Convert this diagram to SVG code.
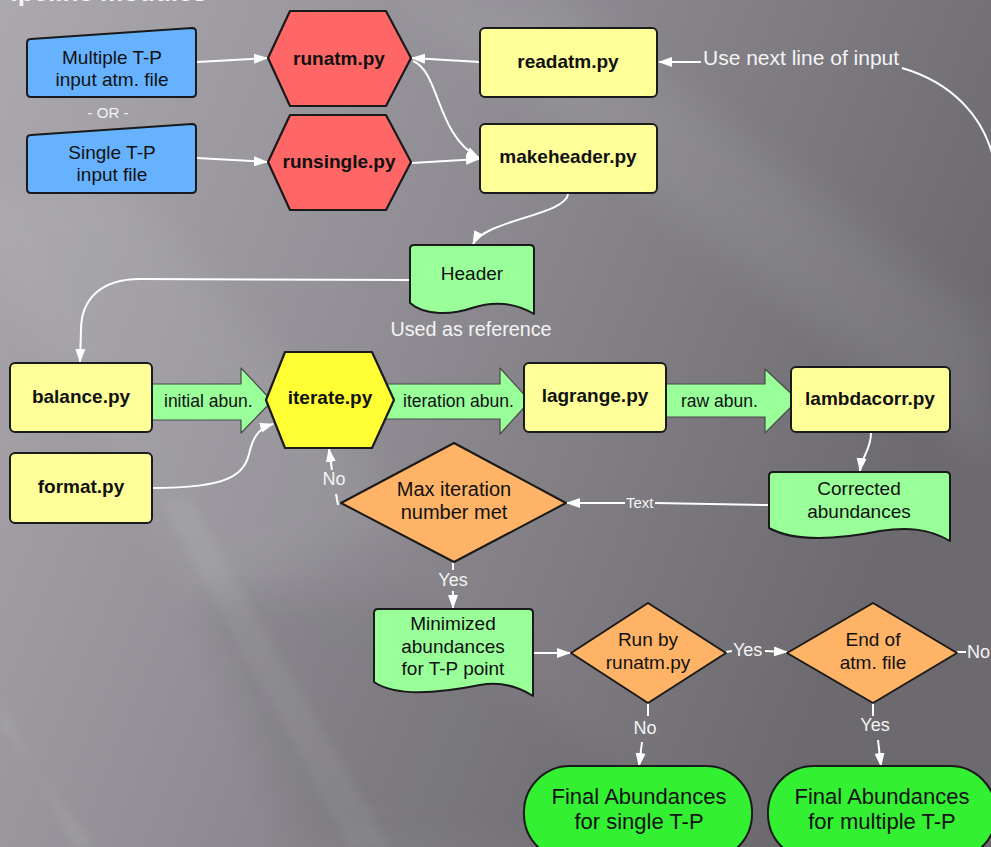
<svg xmlns="http://www.w3.org/2000/svg" width="991" height="847" viewBox="0 0 991 847">
<defs>
<linearGradient id="bg" x1="0" y1="0" x2="1" y2="0.35">
<stop offset="0" stop-color="#aba8ae"/>
<stop offset="0.45" stop-color="#918f95"/>
<stop offset="1" stop-color="#6c6a6f"/>
</linearGradient>
<filter id="blur" x="-20%" y="-20%" width="140%" height="140%"><feGaussianBlur stdDeviation="18"/></filter>
<filter id="blur2" x="-20%" y="-20%" width="140%" height="140%"><feGaussianBlur stdDeviation="5"/></filter>
<marker id="ah" viewBox="0 0 14 12" refX="13" refY="6" markerWidth="14" markerHeight="12" markerUnits="userSpaceOnUse" orient="auto">
<path d="M0,1 L14,6 L0,11 z" fill="#ffffff"/>
</marker>
<style>
.lbl{font-family:"Liberation Sans",Arial,sans-serif;fill:#111;font-size:19px;text-anchor:middle}
.b{font-weight:bold}
.w{font-family:"Liberation Sans",Arial,sans-serif;fill:#f4f4f4;font-size:18px}
.c{text-anchor:middle}
.ln{fill:none;stroke:#ffffff;stroke-width:2}
.ar{marker-end:url(#ah)}
.blue{fill:#66b2ff;stroke:#1a1a1a;stroke-width:2;stroke-linejoin:round}
.red{fill:#ff6666;stroke:#1a1a1a;stroke-width:2.2;stroke-linejoin:round}
.yel{fill:#ffff99;stroke:#1a1a1a;stroke-width:2}
.hy{fill:#ffff33;stroke:#1a1a1a;stroke-width:2.2;stroke-linejoin:round}
.grn{fill:#99ff99;stroke:#1a1a1a;stroke-width:2;stroke-linejoin:round}
.org{fill:#ffb366;stroke:#1a1a1a;stroke-width:2;stroke-linejoin:round}
.fin{fill:#33f033;stroke:#1a1a1a;stroke-width:2}
.big{fill:#99ff99;stroke:#4a4a4a;stroke-width:1.2;stroke-linejoin:round}
.ab{font-family:"Liberation Sans",Arial,sans-serif;fill:#111;font-size:17.5px}
.fl{font-size:22px}
.mx{font-size:20px}
</style>
</defs>

<g id="background">
<rect x="0" y="0" width="991" height="847" fill="url(#bg)"/>
<polygon points="400,0 560,0 991,330 991,460" fill="#ffffff" opacity="0.07" filter="url(#blur)"/>
<polygon points="-50,200 120,180 420,520 200,600" fill="#ffffff" opacity="0.06" filter="url(#blur)"/>
<polygon points="160,500 190,500 390,847 350,847" fill="#ffffff" opacity="0.06" filter="url(#blur2)"/>
<polygon points="0,700 0,725 95,847 75,847" fill="#ffffff" opacity="0.07" filter="url(#blur2)"/>
<polygon points="200,600 420,600 700,847 300,847" fill="#000000" opacity="0.05" filter="url(#blur)"/>
<text x="207" y="1" font-family="Liberation Sans,Arial,sans-serif" font-weight="bold" font-size="26" fill="#f4f4f4" text-anchor="end">Pipeline modules</text>
</g>

<g id="connectors">
<path class="big" d="M146,384 H241 V368 L272,401 L241,433 V420 H146 Z"/>
<text class="ab" x="164" y="407">initial abun.</text>
<path class="big" d="M385,384 H500 V368 L530,401 L500,434 V419 H385 Z"/>
<text class="ab" x="403" y="407">iteration abun.</text>
<path class="big" d="M660,384 H765 V369 L798,400 L765,433 V417 H660 Z"/>
<text class="ab" x="681" y="407">raw abun.</text>

<path class="ln ar" d="M197,62 L267,58"/>
<path class="ln ar" d="M197,158 L267,162"/>
<path class="ln ar" d="M480,62 L412,58"/>
<path class="ln ar" d="M413,61 C440,72 436,135 479,158"/>
<path class="ln ar" d="M412,163 L479,159"/>
<path class="ln ar" d="M701,62 L659,62"/>
<path class="ln" d="M902,68 C950,82 985,115 995,165"/>
<path class="ln ar" d="M568,194 C566,215 485,220 473,244"/>
<path class="ln ar" d="M410,280 L140,279 C100,279 81,300 81,330 L80,362"/>
<path class="ln ar" d="M152,488 C230,488 245,475 250,450 C254,435 260,428 273,424"/>
<path class="ln" d="M338,505 L336,494"/>
<path class="ln ar" d="M332,470 L329,449"/>
<path class="ln ar" d="M871,433 C871,450 862,455 860,471"/>
<path class="ln" d="M769,505 L655,503"/>
<path class="ln ar" d="M625,503 L567,503"/>
<path class="ln" d="M453,562 L453,570"/>
<path class="ln ar" d="M453,591 L453,608"/>
<path class="ln ar" d="M534,653 L570,653"/>
<path class="ln" d="M726,652 L732,651"/>
<path class="ln ar" d="M765,651 L787,652"/>
<path class="ln" d="M957,652 L966,652"/>
<path class="ln" d="M648,703 L648,716"/>
<path class="ln ar" d="M642,742 L639,766"/>
<path class="ln" d="M873,703 L873,716"/>
<path class="ln ar" d="M878,740 L881,766"/>

<text class="w" x="703" y="64.5" style="font-size:21px">Use next line of input</text>
<text class="w c" x="108" y="118" style="font-size:15px">- OR -</text>
<text class="w c" x="471" y="336" style="font-size:19.7px">Used as reference</text>
<text class="w" x="626" y="508" style="font-size:15px">Text</text>
<text class="w c" x="334" y="485">No</text>
<text class="w c" x="453" y="586">Yes</text>
<text class="w" x="733" y="656">Yes</text>
<text class="w" x="967" y="658">No</text>
<text class="w c" x="645" y="734">No</text>
<text class="w c" x="875" y="731">Yes</text>
</g>

<g id="multiple-input">
<path class="blue" d="M27,43 Q27,39 31,39 L192,28 Q196,28 196,32 L196,93 Q196,97 192,97 L31,97 Q27,97 27,93 Z"/>
<text class="lbl" x="112" y="63.5">Multiple T-P</text>
<text class="lbl" x="112" y="85.5">input atm. file</text>
</g>
<g id="single-input">
<path class="blue" d="M27,139 Q27,135 31,135 L192,124 Q196,124 196,128 L196,189 Q196,193 192,193 L31,193 Q27,193 27,189 Z"/>
<text class="lbl" x="112" y="158.5">Single T-P</text>
<text class="lbl" x="112" y="180.5">input file</text>
</g>
<g id="runatm">
<polygon class="red" points="268,58 290,11 386,11 411,58 386,106 290,106"/>
<text class="lbl b" x="339" y="64.5">runatm.py</text>
</g>
<g id="runsingle">
<polygon class="red" points="268,162 290,115 386,115 411,162 386,210 290,210"/>
<text class="lbl b" x="339" y="167.5">runsingle.py</text>
</g>
<g id="readatm">
<rect class="yel" x="480" y="28" width="177" height="69" rx="5"/>
<text class="lbl b" x="568" y="67.5">readatm.py</text>
</g>
<g id="makeheader">
<rect class="yel" x="480" y="124" width="177" height="69" rx="5"/>
<text class="lbl b" x="568" y="162.5">makeheader.py</text>
</g>
<g id="header">
<path class="grn" d="M414,245 H530 Q534,245 534,249 V314 C512,301 490,302 472,308 C452,315 425,316 410,303 V249 Q410,245 414,245 Z"/>
<text class="lbl" x="472" y="279.5">Header</text>
</g>
<g id="balance">
<rect class="yel" x="10" y="363" width="142" height="69" rx="5"/>
<text class="lbl b" x="81" y="402.5">balance.py</text>
</g>
<g id="format">
<rect class="yel" x="10" y="453" width="142" height="70" rx="5"/>
<text class="lbl b" x="81" y="492.5">format.py</text>
</g>
<g id="iterate">
<polygon class="hy" points="266,400 285,352 372,352 394,400 372,448 285,448"/>
<text class="lbl b" x="330" y="404">iterate.py</text>
</g>
<g id="lagrange">
<rect class="yel" x="524" y="363" width="142" height="69" rx="5"/>
<text class="lbl b" x="595" y="401.5">lagrange.py</text>
</g>
<g id="lambdacorr">
<rect class="yel" x="791" y="367" width="159" height="65" rx="5"/>
<text class="lbl b" x="870" y="404.5">lambdacorr.py</text>
</g>
<g id="corrected">
<path class="grn" d="M773,472 H946 Q950,472 950,476 V541 C928,528 905,527 880,531 C850,537 800,545 769,528 V476 Q769,472 773,472 Z"/>
<text class="lbl" x="859" y="494.5">Corrected</text>
<text class="lbl" x="859" y="517.5">abundances</text>
</g>
<g id="max-iteration">
<polygon class="org" points="341,503 454,443 566,503 454,562"/>
<text class="lbl mx" x="454" y="496">Max iteration</text>
<text class="lbl mx" x="454" y="519">number met</text>
</g>
<g id="minimized">
<path class="grn" d="M378,609 H529 Q533,609 533,613 V696 C514,684 496,682 480,685 C455,690 400,700 374,682 V613 Q374,609 378,609 Z"/>
<text class="lbl" x="453" y="629.5">Minimized</text>
<text class="lbl" x="453" y="652.5">abundances</text>
<text class="lbl" x="453" y="674.5">for T-P point</text>
</g>
<g id="run-by">
<polygon class="org" points="571,653 648,603 726,653 648,703"/>
<text class="lbl" x="648" y="645.5">Run by</text>
<text class="lbl" x="648" y="668.5">runatm.py</text>
</g>
<g id="end-of-file">
<polygon class="org" points="787,653 873,603 957,653 873,703"/>
<text class="lbl" x="873" y="645.5">End of</text>
<text class="lbl" x="873" y="668.5">atm. file</text>
</g>
<g id="final-single">
<rect class="fin" x="524" y="766" width="228" height="94" rx="46"/>
<text class="lbl fl" x="639" y="803.5">Final Abundances</text>
<text class="lbl fl" x="639" y="828.5">for single T-P</text>
</g>
<g id="final-multiple">
<rect class="fin" x="768" y="766" width="228" height="94" rx="46"/>
<text class="lbl fl" x="882" y="803.5">Final Abundances</text>
<text class="lbl fl" x="882" y="828.5">for multiple T-P</text>
</g>
</svg>
